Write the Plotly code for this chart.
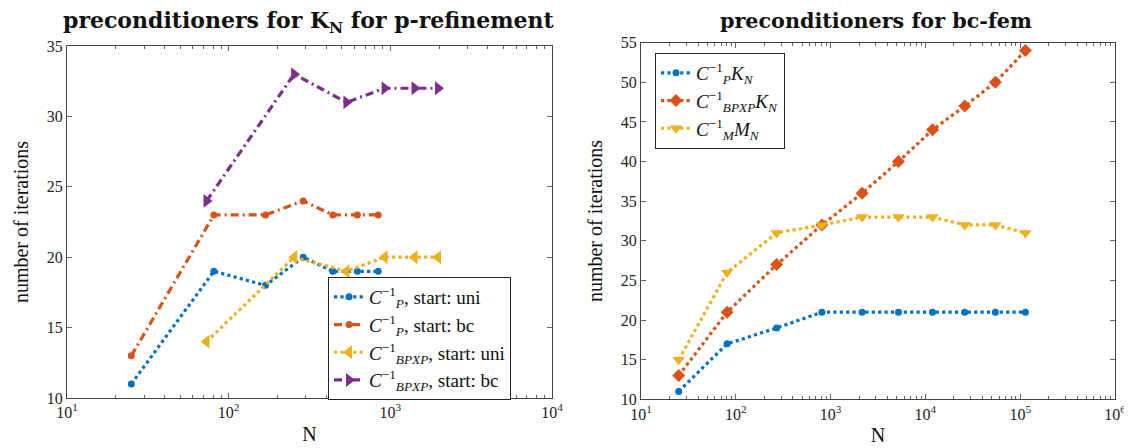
import plotly.graph_objects as go

# ---------------- data ----------------
# left: preconditioners for K_N for p-refinement
N_p = [25, 81, 169, 289, 441, 625, 841]
it_P_uni = [11, 19, 18, 20, 19, 19, 19]
it_P_bc = [13, 23, 23, 24, 23, 23, 23]
N_bpx = [73, 254, 535, 922, 1412, 1972]
it_BPX_uni = [14, 20, 19, 20, 20, 20]
it_BPX_bc = [24, 33, 31, 32, 32, 32]

# right: preconditioners for bc-fem
N_bc = [25, 81, 270, 810, 2150, 5200, 11900, 26000, 54700, 113500]
it_PK = [11, 17, 19, 21, 21, 21, 21, 21, 21, 21]
it_BPXK = [13, 21, 27, 32, 36, 40, 44, 47, 50, 54]
it_MM = [15, 26, 31, 32, 33, 33, 33, 32, 32, 31]

left_xticks = [10, 100, 1000, 10000]
left_xticktext = ["10<sup>1</sup>", "10<sup>2</sup>", "10<sup>3</sup>", "10<sup>4</sup>"]
right_xticks = [10, 100, 1000, 10000, 100000, 1000000]
right_xticktext = ["10<sup>1</sup>", "10<sup>2</sup>", "10<sup>3</sup>", "10<sup>4</sup>",
                   "10<sup>5</sup>", "10<sup>6</sup>"]
left_yticks = [10, 15, 20, 25, 30, 35]
right_yticks = [10, 15, 20, 25, 30, 35, 40, 45, 50, 55]

BLUE, ORANGE, YELLOW, PURPLE = "#0072BD", "#D95319", "#EDB120", "#7E2F8E"
FONT = "Liberation Serif"
TFONT = "DejaVu Serif"

# page has an 8px body margin; figure is sized to fit the window exactly
W, H, OFF = 1124, 440, 8
def PX(px):
    return (px - OFF) / W
def PY(py):
    return 1 - (py - OFF) / H

def minor_vals(lo_exp, hi_exp):
    out = []
    for e in range(lo_exp, hi_exp):
        for m in range(2, 10):
            out.append(m * 10 ** e)
    return out

fig = go.Figure()

def add(x, y, name, color, dash, symbol, size, xa, ya, legend):
    fig.add_trace(go.Scatter(
        x=x, y=y, name=name, mode="lines+markers",
        line=dict(color=color, width=3.2, dash=dash),
        marker=dict(color=color, symbol=symbol, size=size, line=dict(width=0)),
        xaxis=xa, yaxis=ya, legend=legend))

DD = "8px,4px,2px,4px"
add(N_p, it_P_uni, "<i>C</i><sup>−1</sup><sub><i>P</i></sub>, start: uni", BLUE, "dot", "circle", 7, "x", "y", "legend")
add(N_p, it_P_bc, "<i>C</i><sup>−1</sup><sub><i>P</i></sub>, start: bc", ORANGE, DD, "circle", 7, "x", "y", "legend")
add(N_bpx, it_BPX_uni, "<i>C</i><sup>−1</sup><sub><i>BPXP</i></sub>, start: uni", YELLOW, "dot", "triangle-left", 12, "x", "y", "legend")
add(N_bpx, it_BPX_bc, "<i>C</i><sup>−1</sup><sub><i>BPXP</i></sub>, start: bc", PURPLE, DD, "triangle-right", 12, "x", "y", "legend")

add(N_bc, it_PK, "<i>C</i><sup>−1</sup><sub><i>P</i></sub><i>K<sub>N</sub></i>", BLUE, "dot", "circle", 7, "x2", "y2", "legend2")
add(N_bc, it_BPXK, "<i>C</i><sup>−1</sup><sub><i>BPXP</i></sub><i>K<sub>N</sub></i>", ORANGE, "dot", "diamond", 10, "x2", "y2", "legend2")
add(N_bc, it_MM, "<i>C</i><sup>−1</sup><sub><i>M</i></sub><i>M<sub>N</sub></i>", YELLOW, "dot", "triangle-down", 11, "x2", "y2", "legend2")

axis_common = dict(
    showline=True, linecolor="#444", linewidth=1, mirror="allticks",
    ticks="inside", ticklen=5, tickcolor="#666", showgrid=False, zeroline=False,
    automargin=False,
    tickfont=dict(family=FONT, size=16, color="#222"),
)

fig.update_layout(
    width=W, height=H,
    margin=dict(l=0, r=0, t=0, b=0),
    paper_bgcolor="white", plot_bgcolor="white",
    font=dict(family=FONT, color="#111"),
    xaxis=dict(type="log", range=[1, 4], domain=[PX(67), PX(552)],
               tickvals=left_xticks, ticktext=left_xticktext,
               minor=dict(tickvals=minor_vals(1, 4), ticks="inside", ticklen=3, tickcolor="#666"),
               title=dict(text="N", font=dict(family=FONT, size=20), standoff=6),
               anchor="y", **axis_common),
    yaxis=dict(range=[10, 35], domain=[PY(398), PY(46)], tickvals=left_yticks,
               title=dict(text="number of iterations", font=dict(family=FONT, size=20), standoff=12),
               anchor="x", **axis_common),
    xaxis2=dict(type="log", range=[1, 6], domain=[PX(641), PX(1115)],
                tickvals=right_xticks, ticktext=right_xticktext,
                minor=dict(tickvals=minor_vals(1, 6), ticks="inside", ticklen=3, tickcolor="#666"),
                title=dict(text="N", font=dict(family=FONT, size=20), standoff=6),
                anchor="y2", **axis_common),
    yaxis2=dict(range=[10, 55], domain=[PY(399.3), PY(42.7)], tickvals=right_yticks,
                title=dict(text="number of iterations", font=dict(family=FONT, size=20), standoff=12),
                anchor="x2", **axis_common),
    legend=dict(x=PX(328), y=PY(277), xanchor="left", yanchor="top",
                bgcolor="white", bordercolor="#222", borderwidth=1,
                font=dict(family=FONT, size=19), tracegroupgap=0, itemwidth=30),
    legend2=dict(x=PX(655), y=PY(53), xanchor="left", yanchor="top",
                 bgcolor="white", bordercolor="#222", borderwidth=1,
                 font=dict(family=FONT, size=19), tracegroupgap=0, itemwidth=30),
    annotations=[
        dict(text="<b>preconditioners for K<sub>N</sub> for p-refinement</b>", x=PX(309), y=PY(22),
             xref="paper", yref="paper", xanchor="center", yanchor="middle",
             showarrow=False, font=dict(family=TFONT, size=22, color="#111")),
        dict(text="<b>preconditioners for bc-fem</b>", x=PX(876), y=PY(21),
             xref="paper", yref="paper", xanchor="center", yanchor="middle",
             showarrow=False, font=dict(family=TFONT, size=20.7, color="#111")),
    ],
)

fig.write_html("out.html")
